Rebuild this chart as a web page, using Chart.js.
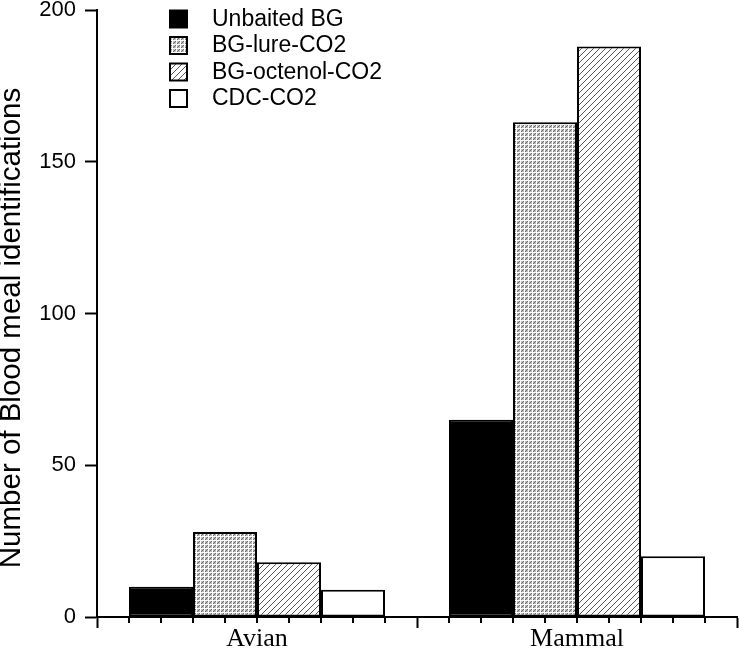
<!DOCTYPE html>
<html>
<head>
<meta charset="utf-8">
<script src="https://cdn.jsdelivr.net/npm/chart.js@4/dist/chart.umd.min.js"></script>
<style>
  html, body { margin: 0; padding: 0; background: #fff; }
  canvas { display: block; }
</style>
</head>
<body>
<canvas id="c" width="740" height="650"></canvas>
<script>
// ---- data ----
const categories = ['Avian', 'Mammal'];
const seriesNames = ['Unbaited BG', 'BG-lure-CO2', 'BG-octenol-CO2', 'CDC-CO2'];
const unbaitedBG = [10, 65];
const bgLureCO2 = [28, 163];
const bgOctenolCO2 = [18, 188];
const cdcCO2 = [9, 20];
const yTicks = [0, 50, 100, 150, 200];
const yTitle = 'Number of Blood meal identifications';

// ---- patterns ----
function stipple() {
  const c = document.createElement('canvas'); c.width = 4; c.height = 4;
  const g = c.getContext('2d');
  g.fillStyle = '#bdbdbd'; g.fillRect(0, 0, 4, 4);
  g.fillStyle = '#ffffff'; g.fillRect(0, 0, 1, 4); g.fillRect(0, 0, 4, 1);
  g.fillStyle = '#6e6e6e'; g.fillRect(2, 2, 1, 1); g.fillRect(1, 3, 1, 1); g.fillRect(3, 1, 1, 1);
  return g.createPattern(c, 'repeat');
}
function hatch() {
  const s = 6;
  const c = document.createElement('canvas'); c.width = s; c.height = s;
  const g = c.getContext('2d');
  g.fillStyle = '#ffffff'; g.fillRect(0, 0, s, s);
  g.strokeStyle = '#555555'; g.lineWidth = 1;
  g.beginPath();
  g.moveTo(0, s); g.lineTo(s, 0);
  g.moveTo(-1, 1); g.lineTo(1, -1);
  g.moveTo(s - 1, s + 1); g.lineTo(s + 1, s - 1);
  g.stroke();
  return g.createPattern(c, 'repeat');
}
const fills = ['#000000', stipple(), hatch(), '#ffffff'];
const seriesValues = [unbaitedBG, bgLureCO2, bgOctenolCO2, cdcCO2];

// ---- plugins ----
const minorTicks = {
  id: 'minorTicks',
  afterDraw(chart) {
    const x = chart.scales.x, ctx = chart.ctx, bottom = chart.chartArea.bottom;
    ctx.save();
    ctx.strokeStyle = '#000'; ctx.lineWidth = 2;
    for (let i = 0; i < categories.length; i++) {
      const c = x.getPixelForValue(i);
      const w = x.width / categories.length;
      for (let k = 1; k < 10; k++) {
        const px = Math.round(c - w / 2 + w * k / 10);
        ctx.beginPath(); ctx.moveTo(px, bottom); ctx.lineTo(px, bottom + 6); ctx.stroke();
      }
    }
    ctx.restore();
  }
};
const yTitlePlugin = {
  id: 'yTitlePlugin',
  afterDraw(chart) {
    const ctx = chart.ctx;
    ctx.save();
    ctx.translate(12, 328);
    ctx.rotate(-Math.PI / 2);
    ctx.font = '29.5px "Liberation Sans", Arial, sans-serif';
    ctx.textAlign = 'center';
    ctx.textBaseline = 'middle';
    ctx.fillStyle = '#000';
    ctx.fillText(yTitle, 0, 0);
    ctx.restore();
  }
};
const boxLegend = {
  id: 'boxLegend',
  afterDraw(chart) {
    const ctx = chart.ctx;
    ctx.save();
    ctx.font = '23px "Liberation Sans", Arial, sans-serif';
    ctx.textBaseline = 'middle';
    chart.data.datasets.forEach((ds, i) => {
      const cy = 18.5 + i * 26.5;
      ctx.fillStyle = ds.backgroundColor;
      ctx.fillRect(170, cy - 8, 17, 17);
      ctx.strokeStyle = '#000'; ctx.lineWidth = 2;
      ctx.strokeRect(170, cy - 8, 17, 17);
      ctx.fillStyle = '#000';
      ctx.fillText(ds.label, 212, cy + 1);
    });
    ctx.restore();
  }
};

new Chart(document.getElementById('c'), {
  type: 'bar',
  data: {
    labels: categories,
    datasets: seriesNames.map((n, i) => ({
      label: n,
      data: seriesValues[i],
      backgroundColor: fills[i],
      borderColor: '#000',
      borderWidth: 2,
      borderSkipped: false,
      categoryPercentage: 0.8,
      barPercentage: 1.0
    }))
  },
  options: {
    responsive: false,
    animation: false,
    devicePixelRatio: 1,
    layout: { padding: { top: 10, right: 3, left: 0, bottom: 0 } },
    plugins: { legend: { display: false }, tooltip: { enabled: false } },
    scales: {
      x: {
        offset: true,
        grid: { offset: true, drawOnChartArea: false, drawTicks: true, tickLength: 11, tickColor: '#000', tickWidth: 2 },
        border: { color: '#000', width: 2 },
        ticks: { color: '#000', font: { family: '"Liberation Serif", "Times New Roman", serif', size: 26 }, padding: -4 },
        afterFit(s) { s.height = 33; s.paddingLeft = 0; s.paddingRight = 0; }
      },
      y: {
        min: 0, max: 200,
        afterBuildTicks(s) { s.ticks = yTicks.map(v => ({ value: v })); },
        grid: { drawOnChartArea: false, drawTicks: true, tickLength: 12, tickColor: '#000', tickWidth: 2 },
        border: { color: '#000', width: 2 },
        ticks: { color: '#000', font: { family: '"Liberation Sans", Arial, sans-serif', size: 22 }, padding: 9 },
        title: { display: false, text: yTitle },
        afterFit(s) { s.width = 97; s.paddingTop = 0; s.paddingBottom = 0; }
      }
    }
  },
  plugins: [minorTicks, yTitlePlugin, boxLegend]
});
</script>
</body>
</html>
